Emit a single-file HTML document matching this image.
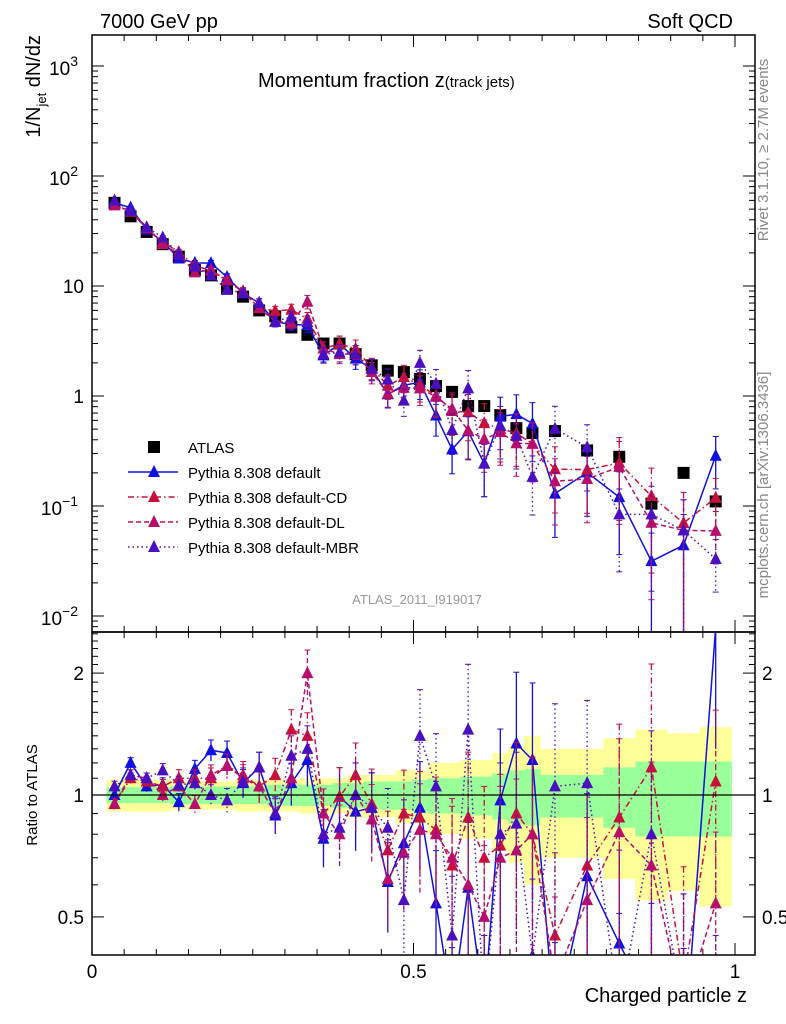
<!DOCTYPE html>
<html><head><meta charset="utf-8"><style>
html,body{margin:0;padding:0;background:#fff;width:786px;height:1024px;overflow:hidden;}
svg{display:block;font-family:"Liberation Sans",Arial,sans-serif;overflow:hidden;}
</style></head><body>
<svg id="chart" width="786" height="1024" viewBox="0 0 786 1024" xmlns="http://www.w3.org/2000/svg">
<defs>
<clipPath id="clipM"><rect x="92" y="35" width="663" height="597"/></clipPath>
<clipPath id="clipR"><rect x="92" y="632" width="663" height="323"/></clipPath>
</defs>
<g id="bands" clip-path="url(#clipR)"></g>
<g id="ticks"></g>
<g id="marks"></g>
<rect x="92" y="35" width="663" height="597" fill="none" stroke="#000" stroke-width="1.5"/>
<rect x="92" y="632" width="663" height="323" fill="none" stroke="#000" stroke-width="1.5"/>
<line x1="92" x2="755" y1="795" y2="795" stroke="#000" stroke-width="1.2"/>
<text x="100" y="28" font-size="20">7000 GeV pp</text>
<text x="733" y="28" font-size="20" text-anchor="end">Soft QCD</text>
<text x="258" y="87" font-size="20">Momentum fraction z<tspan font-size="15">(track jets)</tspan></text>
<text transform="translate(40,35) rotate(-90)" font-size="20" text-anchor="end">1/N<tspan font-size="13" dy="6">jet</tspan><tspan dy="-6"> dN/dz</tspan></text>
<text transform="translate(37,795) rotate(-90)" font-size="15" text-anchor="middle">Ratio to ATLAS</text>
<text x="747" y="1002" font-size="20" text-anchor="end">Charged particle z</text>
<text transform="translate(768,150) rotate(-90)" font-size="15" fill="#888" text-anchor="middle">Rivet 3.1.10, ≥ 2.7M events</text>
<text transform="translate(768,485) rotate(-90)" font-size="15" fill="#888" text-anchor="middle">mcplots.cern.ch [arXiv:1306.3436]</text>
<text x="417" y="604" font-size="13" fill="#999" text-anchor="middle">ATLAS_2011_I919017</text>
<g id="legend"></g>
</svg>
<script>
const zCenters=[0.035,0.06,0.085,0.11,0.135,0.16,0.185,0.21,0.235,0.26,0.285,0.31,0.335,0.36,0.385,0.41,0.435,0.46,0.485,0.51,0.535,0.56,0.585,0.61,0.635,0.66,0.685,0.72,0.77,0.82,0.87,0.92,0.97];
const binHalfWidths=[0.0125,0.0125,0.0125,0.0125,0.0125,0.0125,0.0125,0.0125,0.0125,0.0125,0.0125,0.0125,0.0125,0.0125,0.0125,0.0125,0.0125,0.0125,0.0125,0.0125,0.0125,0.0125,0.0125,0.0125,0.0125,0.0125,0.0125,0.025,0.025,0.025,0.025,0.025,0.025];
const atlasValues=[57,43,31,24,18.5,14,12.5,9.5,8,6,5.3,4.2,3.6,3.0,3.0,2.4,1.9,1.7,1.65,1.43,1.23,1.09,0.81,0.81,0.67,0.51,0.46,0.48,0.32,0.28,0.105,0.2,0.11];
const atlasTotErr=[0.09,0.09,0.09,0.09,0.08,0.08,0.08,0.08,0.09,0.09,0.09,0.09,0.1,0.1,0.1,0.12,0.12,0.12,0.15,0.15,0.2,0.2,0.22,0.22,0.27,0.32,0.4,0.3,0.3,0.38,0.45,0.42,0.47];
const atlasStatErr=[0.045,0.045,0.045,0.045,0.05,0.05,0.05,0.05,0.05,0.05,0.06,0.06,0.06,0.06,0.07,0.07,0.08,0.08,0.08,0.09,0.1,0.1,0.11,0.11,0.13,0.15,0.16,0.12,0.12,0.17,0.21,0.21,0.21];
const ratioDefault=[1.0,1.2,1.05,1.06,0.96,1.16,1.29,1.27,1.07,1.17,0.89,1.07,1.22,0.78,0.99,0.91,0.93,0.61,0.76,0.93,0.54,0.3,0.59,0.3,0.97,1.34,1.22,0.27,0.63,0.43,0.3,0.22,2.6];
const ratioCD=[0.95,1.1,1.08,1.05,1.1,1.1,1.1,1.18,1.12,1.05,1.12,1.45,1.4,0.9,0.99,1.12,0.95,0.73,0.9,0.88,0.82,0.67,0.88,0.7,0.75,0.9,0.8,0.45,0.67,0.88,1.17,0.35,1.08];
const ratioDL=[0.95,1.12,1.1,1.0,1.05,0.95,1.12,1.18,1.1,1.05,0.9,1.1,2.0,0.9,0.8,1.0,0.87,0.62,0.72,0.82,0.8,0.7,0.6,0.5,0.7,0.73,0.8,0.35,0.55,0.81,0.67,0.3,0.54];
const ratioMBR=[1.05,1.12,1.1,1.15,1.06,1.07,1.0,0.97,1.08,1.17,0.9,1.25,1.3,0.8,0.83,1.0,0.93,0.83,0.55,1.4,1.05,0.45,1.45,0.3,0.8,0.85,0.4,1.05,1.07,0.3,0.8,0.3,0.3];
const modelRelErr=[0.03,0.03,0.03,0.04,0.05,0.05,0.06,0.07,0.08,0.09,0.1,0.12,0.14,0.15,0.18,0.2,0.22,0.25,0.28,0.3,0.35,0.4,0.45,0.5,0.5,0.5,0.55,0.6,0.6,0.7,0.8,0.9,0.5];
const xTickLabels=["0","0.5","1"];
const xTickValues=[0,0.5,1];
const ratioTickValues=[0.5,1,2];
const ratioTickLabels=["0.5","1","2"];

const NS="http://www.w3.org/2000/svg";
const xS=z=>92+643*z;
const yM=v=>Math.min(632,Math.max(35,396-110*Math.log10(v)));
const yR=r=>Math.min(955,Math.max(632,795-405*Math.log10(r)));
function mk(tag,attrs,parent){const e=document.createElementNS(NS,tag);for(const k in attrs)e.setAttribute(k,attrs[k]);parent.appendChild(e);return e;}
const bands=document.getElementById('bands'),ticks=document.getElementById('ticks'),marks=document.getElementById('marks'),legend=document.getElementById('legend');

zCenters.forEach((z,i)=>{
  const x0=xS(z-binHalfWidths[i]),x1=xS(z+binHalfWidths[i]);
  const y=mk('rect',{x:x0,y:yR(1+atlasTotErr[i]),width:x1-x0,height:yR(1-atlasTotErr[i])-yR(1+atlasTotErr[i]),fill:'#ffff99'},bands);
  
  
});
zCenters.forEach((z,i)=>{
  const x0=xS(z-binHalfWidths[i]),x1=xS(z+binHalfWidths[i]);
  const g=mk('rect',{x:x0,y:yR(1+atlasStatErr[i]),width:x1-x0,height:yR(1-atlasStatErr[i])-yR(1+atlasStatErr[i]),fill:'#99ff99'},bands);
  
  
});

for(let k=0;k<=20;k++){
  const z=k*0.05;const x=xS(z);const maj=(k%10===0);const L=maj?12:6;
  [[955,-1],[632,1],[632,-1],[35,1]].forEach(([y0,d])=>{
    mk('line',{x1:x,x2:x,y1:y0,y2:y0+d*L,stroke:'#000','stroke-width':1},ticks);
  });
}
xTickValues.forEach((v,i)=>{
  const t=mk('text',{x:xS(v),y:978,'font-size':19,'text-anchor':'middle'},ticks);
  t.textContent=xTickLabels[i];
  
  
});
for(let d=-3;d<=3;d++){for(let m=1;m<=9;m++){
  const v=m*Math.pow(10,d);const y=396-110*Math.log10(v);if(y<35||y>632)continue;const L=(m===1)?12:6;
  mk('line',{x1:92,x2:92+L,y1:y,y2:y,stroke:'#000'},ticks);
  mk('line',{x1:755,x2:755-L,y1:y,y2:y,stroke:'#000'},ticks);
}}
const decLabels=[[-2,'10','−2'],[-1,'10','−1'],[0,'1',''],[1,'10',''],[2,'10','2'],[3,'10','3']];
decLabels.forEach(([d,b,e])=>{
  const t=mk('text',{x:e?78:84,y:yM(Math.pow(10,d))+(e?9:7),'font-size':19,'text-anchor':'end'},ticks);
  t.textContent=b;
  
  
  if(e){const s=mk('tspan',{'font-size':14,dy:-9},t);s.textContent=e;}
});
for(let r=0.4;r<2.55;r+=0.1){
  const rr=Math.round(r*10)/10;const y=795-405*Math.log10(rr);if(y<632||y>955)continue;
  const maj=(rr===0.5||rr===1||rr===2);const L=maj?12:6;
  mk('line',{x1:92,x2:92+L,y1:y,y2:y,stroke:'#000'},ticks);
  mk('line',{x1:755,x2:755-L,y1:y,y2:y,stroke:'#000'},ticks);
}
ratioTickValues.forEach((v,i)=>{
  const t=mk('text',{x:84,y:yR(v)+7,'font-size':19,'text-anchor':'end'},ticks);
  t.textContent=ratioTickLabels[i];
  
  
  const t2=mk('text',{x:762,y:yR(v)+7,'font-size':19},ticks);
  t2.textContent=ratioTickLabels[i];
  
  
});

function tri(x,y,c,parent){return mk('polygon',{points:`${x},${y-7} ${x-6},${y+5} ${x+6},${y+5}`,fill:c},parent);}

const series=[
 {name:'default',ratios:ratioDefault,color:'#1010e0',dash:'',label:'Pythia 8.308 default'},
 {name:'default-cd',ratios:ratioCD,color:'#c8103a',dash:'6,3,1.5,3',label:'Pythia 8.308 default-CD'},
 {name:'default-dl',ratios:ratioDL,color:'#b8106a',dash:'5,3',label:'Pythia 8.308 default-DL'},
 {name:'default-mbr',ratios:ratioMBR,color:'#4a10c0',dash:'1.5,3',label:'Pythia 8.308 default-MBR'}
];

const gMainData=mk('g',{'clip-path':'url(#clipM)'},marks);
zCenters.forEach((z,i)=>{
  const s=mk('rect',{x:xS(z)-6,y:yM(atlasValues[i])-6,width:12,height:12,fill:'#000'},gMainData);
  
  
});

series.forEach(s=>{
  const gm=mk('g',{'clip-path':'url(#clipM)'},marks);
  
  
  const gr=mk('g',{'clip-path':'url(#clipR)'},marks);
  
  
  const vals=s.ratios.map((r,i)=>r*atlasValues[i]);
  const ptsM=vals.map((v,i)=>xS(zCenters[i])+','+(396-110*Math.log10(v))).join(' ');
  const ptsR=s.ratios.map((r,i)=>xS(zCenters[i])+','+(795-405*Math.log10(r))).join(' ');
  mk('polyline',{points:ptsM,fill:'none',stroke:s.color,'stroke-width':1.5,'stroke-dasharray':s.dash},gm);
  mk('polyline',{points:ptsR,fill:'none',stroke:s.color,'stroke-width':1.5,'stroke-dasharray':s.dash},gr);
  vals.forEach((v,i)=>{
    const x=xS(zCenters[i]);const e=modelRelErr[i];
    const lo=v*(1-e),hi=v*(1+e);
    const yl=lo>0?yM(lo):632,yh=yM(hi);
    mk('line',{x1:x,x2:x,y1:yh,y2:yl,stroke:s.color,'stroke-width':1.3,'stroke-dasharray':s.dash},gm);
    mk('line',{x1:x-3,x2:x+3,y1:yh,y2:yh,stroke:s.color},gm);
    if(lo>0)mk('line',{x1:x-3,x2:x+3,y1:yl,y2:yl,stroke:s.color},gm);
    const t=tri(x,396-110*Math.log10(v),s.color,gm);
    
    
    const r=s.ratios[i];const rl=r*(1-e),rh=r*(1+e);
    const ryl=rl>0?yR(rl):955,ryh=yR(rh);
    mk('line',{x1:x,x2:x,y1:ryh,y2:ryl,stroke:s.color,'stroke-width':1.3,'stroke-dasharray':s.dash},gr);
    mk('line',{x1:x-3,x2:x+3,y1:ryh,y2:ryh,stroke:s.color},gr);
    const ry=795-405*Math.log10(r);
    if(ry<962){
      const t2=tri(x,ry,s.color,gr);
      
      
    }
  });
});

const lg0=mk('g',{},legend);


mk('rect',{x:148,y:441,width:12,height:12,fill:'#000'},lg0);
const lt0=mk('text',{x:188,y:453,'font-size':15},lg0);lt0.textContent='ATLAS';
series.forEach((s,i)=>{
  const y=472+i*25;
  const g=mk('g',{},legend);
  
  
  mk('line',{x1:128,x2:178,y1:y,y2:y,stroke:s.color,'stroke-width':1.5,'stroke-dasharray':s.dash},g);
  tri(154,y,s.color,g);
  const t=mk('text',{x:188,y:y+6,'font-size':15},g);t.textContent=s.label;
});
</script>
</body></html>
